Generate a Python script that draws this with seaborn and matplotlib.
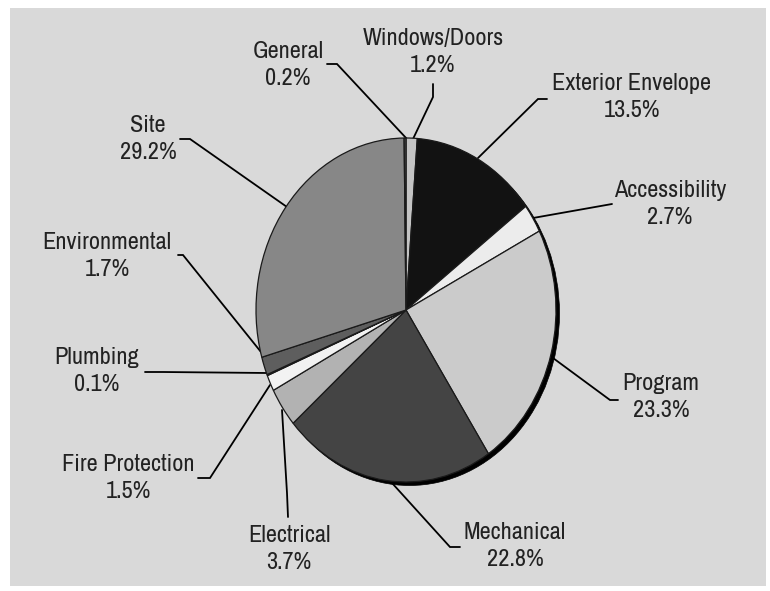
import matplotlib
matplotlib.use("Agg")
import matplotlib.pyplot as plt
from matplotlib.patches import Rectangle, Ellipse
import seaborn as sns

# ---- data ----
categories = ["Windows/Doors", "Exterior Envelope", "Accessibility", "Program",
              "Mechanical", "Electrical", "Fire Protection", "Plumbing",
              "Environmental", "Site", "General"]
values = [1.2, 13.5, 2.7, 23.3, 22.8, 3.7, 1.5, 0.1, 1.7, 29.2, 0.2]
colors = ["#c4c4c4", "#121212", "#ececec", "#cbcbcb", "#444444", "#b2b2b2",
          "#f2f2f2", "#111111", "#5e5e5e", "#878787", "#555555"]

# label anchor (pixel coords) and leader polylines (pixel coords)
label_pos = [(433, 52), (632, 97), (670, 204), (661, 397), (515, 546),
             (289, 549), (128, 478), (97, 371), (107, 256), (148, 139), (288, 65)]
leaders = [
    [(433, 84), (433, 97), (413, 139)],
    [(547, 99), (538, 99), (478, 158)],
    [(612, 204), (533, 218)],
    [(618, 400), (610, 400), (553, 358)],
    [(460, 547), (450, 547), (392, 483)],
    [(288, 517), (287, 493), (282, 410)],
    [(198, 478), (210, 478), (270, 385)],
    [(145, 372), (163, 372), (267, 373)],
    [(178, 255), (183, 255), (265, 357)],
    [(180, 139), (190, 139), (287, 207)],
    [(327, 64), (337, 64), (407, 139)],
]

sns.set_style("white")
plt.rcParams["font.family"] = ["Archivo Narrow", "Roboto Condensed", "Liberation Sans", "DejaVu Sans"]

W, H = 770, 591
fig = plt.figure(figsize=(W / 100, H / 100), dpi=100)
fig.patch.set_facecolor("white")

ax = fig.add_axes([0, 0, 1, 1])
ax.set_xlim(0, W)
ax.set_ylim(H, 0)
ax.axis("off")
ax.add_patch(Rectangle((10, 8), 756, 578, facecolor="#d9d9d9", edgecolor="none", zorder=0))

for (tx, ty), name, v, pts in zip(label_pos, categories, values, leaders):
    ax.text(tx, ty, f"{name}\n{v}%", ha="center", va="center", ma="center",
            fontsize=17.5, color="#222222", linespacing=1.37, zorder=3)
    xs = [p[0] for p in pts]
    ys = [p[1] for p in pts]
    ax.plot(xs, ys, color="black", lw=1.3, zorder=2, solid_joinstyle="miter")

# pie in its own axes, stretched into an ellipse
cx, cy, rx, ry = 406, 310, 150, 172
pax = fig.add_axes([(cx - rx) / W, 1 - (cy + ry) / H, 2 * rx / W, 2 * ry / H])
pax.set_xlim(-1, 1)
pax.set_ylim(-1, 1)
pax.set_aspect("auto")
pax.axis("off")
pax.patch.set_alpha(0)

# shadow on the right/bottom rim
shadow = Ellipse((3.5 / rx, -3.5 / ry), 2, 2, facecolor="black", edgecolor="black",
                 lw=0.5, zorder=0, clip_on=False)
pax.add_patch(shadow)

wedges, _ = pax.pie(values, colors=colors, startangle=90, counterclock=False,
                    radius=1, center=(0, 0), frame=False,
                    wedgeprops=dict(edgecolor="#1a1a1a", linewidth=0.9))
for w in wedges:
    w.set_clip_on(False)
pax.set_xlim(-1, 1)
pax.set_ylim(-1, 1)
pax.set_aspect("auto")

fig.savefig("out.png", dpi=100, facecolor="white")
